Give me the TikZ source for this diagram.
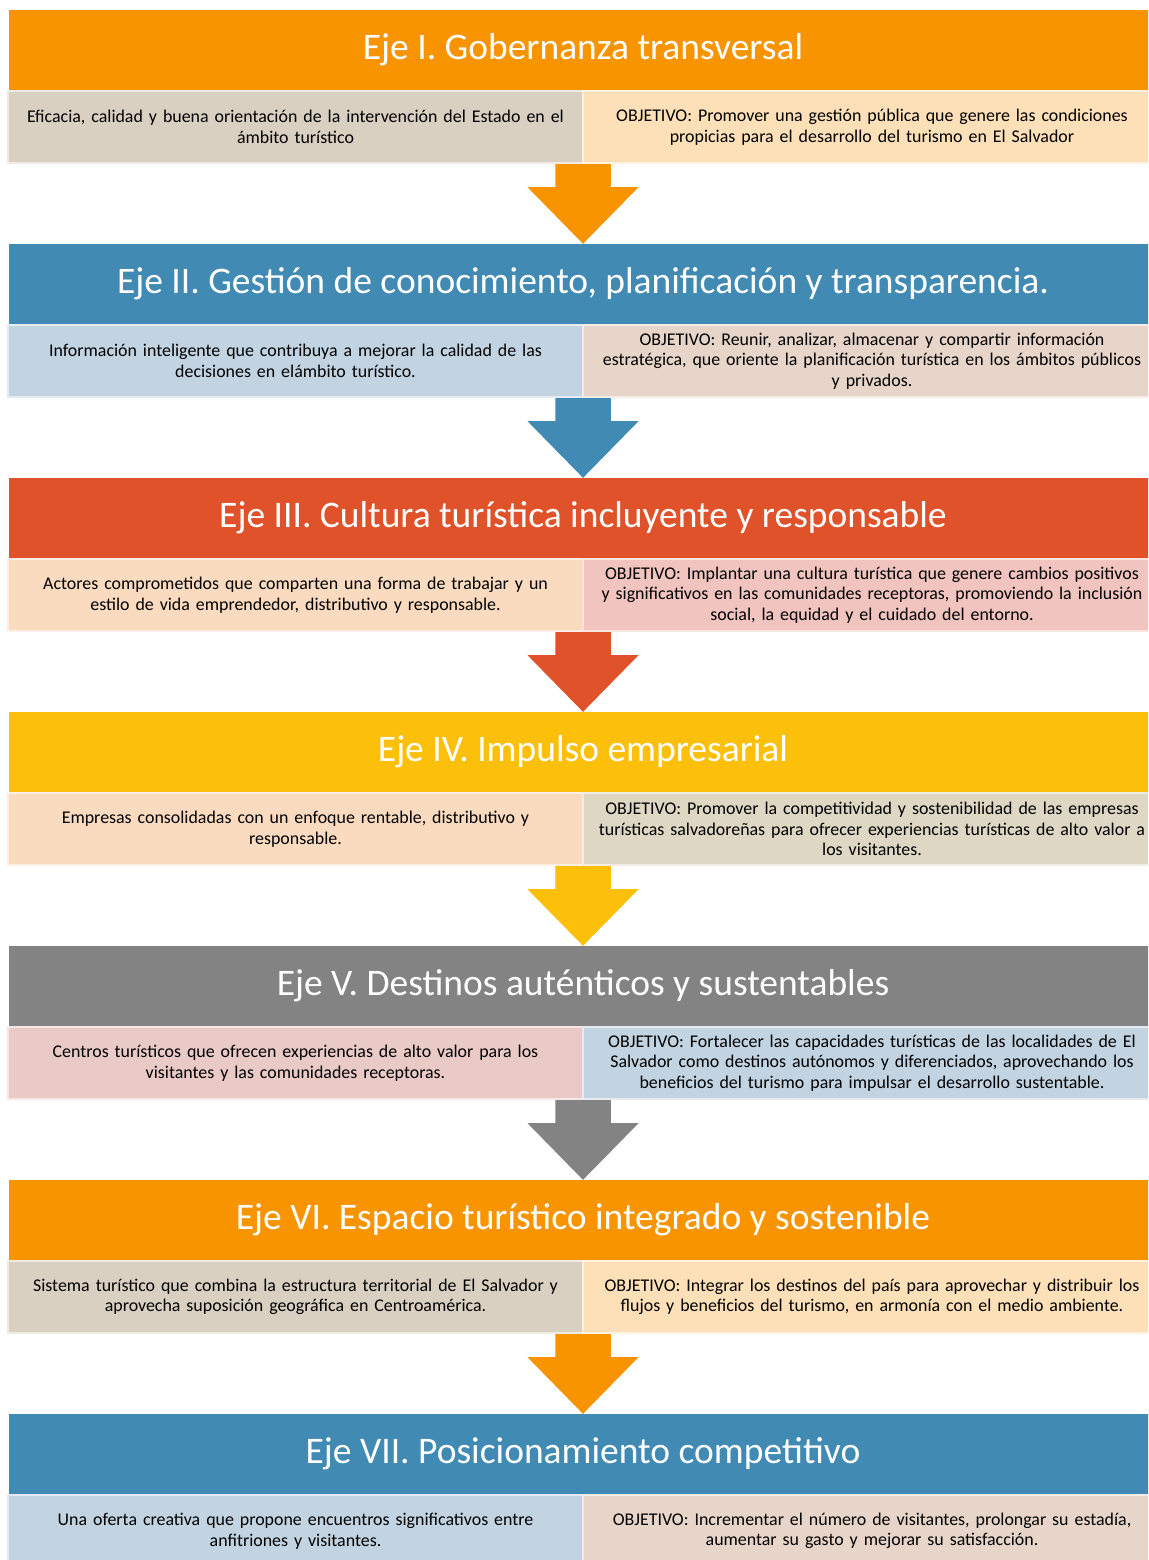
\documentclass[tikz,border=0pt]{standalone}
\usepackage{fontspec}
\setmainfont{Carlito}
\usetikzlibrary{calc}

% header band colours
\definecolor{cOrange}{HTML}{F79400}
\definecolor{cBlue}{HTML}{418AB3}
\definecolor{cRed}{HTML}{E0532A}
\definecolor{cYellow}{HTML}{FCC00A}
\definecolor{cGray}{HTML}{838383}
% sub-box colours
\definecolor{sBeige}{HTML}{D9D0C2}
\definecolor{sPeach}{HTML}{FDE0B8}
\definecolor{sLBlue}{HTML}{C2D3E1}
\definecolor{sRose}{HTML}{E8D5CA}
\definecolor{sApricot}{HTML}{FBDBC0}
\definecolor{sPink}{HTML}{F1C4BF}
\definecolor{sSand}{HTML}{DDD7C4}
\definecolor{sBlush}{HTML}{E9CAC7}

\tikzset{
  header/.style={minimum width=1148, minimum height=80, inner sep=0pt,
    text=white, font=\fontsize{37.5}{40}\selectfont},
  subbox/.style={minimum height=72, inner sep=0pt, align=center,
    anchor=north west, line width=2pt,
    font=\fontsize{17.9}{20.5}\selectfont},
}

% one axis: header band and its two description boxes
% #1 id, #2 top y, #3 band colour, #4 title,
% #5 left colour, #6 left text, #7 right colour, #8 right text
\newcommand\ejerow[8]{%
  \node[subbox, fill=#5, draw=#5!45!white, minimum width=575, text width=570]
    (l#1) at (7,{#2+80}) {#6};
  \node[subbox, fill=#7, draw=#7!45!white, minimum width=578, text width=575]
    (r#1) at (582,{#2+80}) {#8};
  \node[header, fill=#3] (h#1) at (583,{#2+40}) {#4};
}

% block arrow from a row's boxes down to the next band
\newcommand\flowarrow[3]{%
  \fill[#3] let \p1=(#1.south east), \p2=(#2.north) in
    (\x2-27.75pt,\y1) -- (\x2+27.75pt,\y1) -- (\x2+27.75pt,\y2+56.6pt)
    -- (\x2+55.5pt,\y2+56.6pt) -- (\x2,\y2) -- (\x2-55.5pt,\y2+56.6pt)
    -- (\x2-27.75pt,\y2+56.6pt) -- cycle;
}

\begin{document}
\begin{tikzpicture}[x=1pt, y=-1pt]
\clip (0,0) rectangle (1148,1560);
\fill[white] (0,0) rectangle (1148,1560);

\ejerow{1}{10}{cOrange}{Eje I. Gobernanza transversal}
  {sBeige}{Eficacia, calidad y buena orientación de la intervención del Estado en el\\ámbito turístico}
  {sPeach}{OBJETIVO: Promover una gestión pública que genere las condiciones\\propicias para el desarrollo del turismo en El Salvador}

\ejerow{2}{244}{cBlue}{Eje II. Gestión de conocimiento, planificación y transparencia.}
  {sLBlue}{Información inteligente que contribuya a mejorar la calidad de las\\decisiones en elámbito turístico.}
  {sRose}{OBJETIVO: Reunir, analizar, almacenar y compartir información\\estratégica, que oriente la planificación turística en los ámbitos públicos\\y privados.}

\ejerow{3}{478}{cRed}{Eje III. Cultura turística incluyente y responsable}
  {sApricot}{Actores comprometidos que comparten una forma de trabajar y un\\estilo de vida emprendedor, distributivo y responsable.}
  {sPink}{OBJETIVO: Implantar una cultura turística que genere cambios positivos\\y significativos en las comunidades receptoras, promoviendo la inclusión\\social, la equidad y el cuidado del entorno.}

\ejerow{4}{712}{cYellow}{Eje IV. Impulso empresarial}
  {sApricot}{Empresas consolidadas con un enfoque rentable, distributivo y\\responsable.}
  {sSand}{OBJETIVO: Promover la competitividad y sostenibilidad de las empresas\\turísticas salvadoreñas para ofrecer experiencias turísticas de alto valor a\\los visitantes.}

\ejerow{5}{946}{cGray}{Eje V. Destinos auténticos y sustentables}
  {sBlush}{Centros turísticos que ofrecen experiencias de alto valor para los\\visitantes y las comunidades receptoras.}
  {sLBlue}{OBJETIVO: Fortalecer las capacidades turísticas de las localidades de El\\Salvador como destinos autónomos y diferenciados, aprovechando los\\beneficios del turismo para impulsar el desarrollo sustentable.}

\ejerow{6}{1180}{cOrange}{Eje VI. Espacio turístico integrado y sostenible}
  {sBeige}{Sistema turístico que combina la estructura territorial de El Salvador y\\aprovecha suposición geográfica en Centroamérica.}
  {sPeach}{OBJETIVO: Integrar los destinos del país para aprovechar y distribuir los\\flujos y beneficios del turismo, en armonía con el medio ambiente.}

\ejerow{7}{1414}{cBlue}{Eje VII. Posicionamiento competitivo}
  {sLBlue}{Una oferta creativa que propone encuentros significativos entre\\anfitriones y visitantes.}
  {sRose}{OBJETIVO: Incrementar el número de visitantes, prolongar su estadía,\\aumentar su gasto y mejorar su satisfacción.}

\flowarrow{l1}{h2}{cOrange}
\flowarrow{l2}{h3}{cBlue}
\flowarrow{l3}{h4}{cRed}
\flowarrow{l4}{h5}{cYellow}
\flowarrow{l5}{h6}{cGray}
\flowarrow{l6}{h7}{cOrange}
\end{tikzpicture}
\end{document}
